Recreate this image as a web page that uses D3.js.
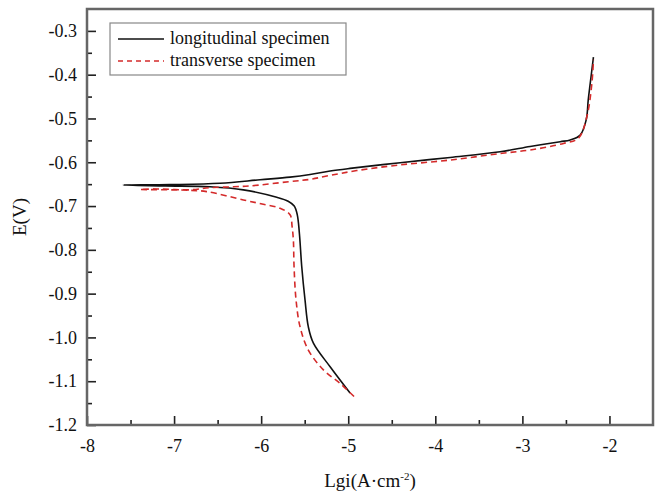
<!DOCTYPE html>
<html>
<head>
<meta charset="utf-8">
<script src="https://cdn.jsdelivr.net/npm/d3@7"></script>
<style>
  body { margin: 0; background: #fff; }
  svg text { font-family: "Liberation Serif", "Times New Roman", serif; }
</style>
</head>
<body>
<div id="chart"></div>
<script>
// lg i (A/cm2) and E (V), traced from cathodic end through Ecorr to anodic end
var longLgi = [-4.979, -5.208, -5.400, -5.458, -5.496, -5.534, -5.561, -5.585, -5.620, -5.690, -5.821, -6.204, -6.587, -7.100, -7.583,
  -7.047, -6.472, -6.013, -5.668, -5.438, -5.208, -4.979, -4.404, -3.830, -3.256, -2.911, -2.566, -2.451, -2.336, -2.267, -2.244, -2.221, -2.184];
var longE = [-1.127, -1.067, -1.013, -0.976, -0.915, -0.838, -0.762, -0.720, -0.700, -0.689, -0.680, -0.663, -0.656, -0.654, -0.652,
  -0.651, -0.648, -0.640, -0.634, -0.628, -0.620, -0.614, -0.601, -0.589, -0.576, -0.564, -0.553, -0.549, -0.538, -0.503, -0.458, -0.420, -0.360];

var transLgi = [-4.933, -5.094, -5.285, -5.458, -5.553, -5.599, -5.622, -5.630, -5.645, -5.668, -5.783, -5.975, -6.204, -6.625, -6.817, -7.391,
  -7.161, -6.817, -6.587, -6.319, -6.127, -5.668, -5.438, -5.208, -4.902, -4.404, -3.830, -3.256, -2.911, -2.528, -2.356, -2.260, -2.202, -2.184];
var transE = [-1.135, -1.105, -1.074, -1.029, -0.976, -0.915, -0.839, -0.778, -0.746, -0.720, -0.705, -0.696, -0.686, -0.667, -0.664, -0.662,
  -0.661, -0.663, -0.658, -0.656, -0.654, -0.644, -0.639, -0.630, -0.619, -0.606, -0.595, -0.580, -0.572, -0.557, -0.545, -0.496, -0.420, -0.366];

var seriesNames = ["longitudinal specimen", "transverse specimen"];
var xTicks = [-8, -7, -6, -5, -4, -3, -2];
var yTicks = [-1.2, -1.1, -1.0, -0.9, -0.8, -0.7, -0.6, -0.5, -0.4, -0.3];

var W = 662, H = 494;
var m = { left: 87, top: 9, right: 9, bottom: 69 };
var iw = W - m.left - m.right, ih = H - m.top - m.bottom;
var serif = "'Liberation Serif', 'Times New Roman', serif";

var svg = d3.select("#chart").append("svg")
  .attr("width", W)
  .attr("height", H);

var scX = d3.scaleLinear().domain([-8, -1.5]).range([0, iw]);
var scY = d3.scaleLinear().domain([-1.2, -0.25]).range([ih, 0]);

var g = svg.append("g").attr("transform", `translate(${m.left},${m.top})`);

// --- Curves ---

var lnMkr = d3.line()
  .curve(d3.curveCatmullRom.alpha(0.5))
  .x(d => scX(d[0]))
  .y(d => scY(d[1]));

var longData = longLgi.map((v, i) => [v, longE[i]]);
var transData = transLgi.map((v, i) => [v, transE[i]]);

g.append("path")
  .attr("fill", "none")
  .attr("stroke", "#111")
  .attr("stroke-width", 1.6)
  .attr("d", lnMkr(longData));

g.append("path")
  .attr("fill", "none")
  .attr("stroke", "#d42a2a")
  .attr("stroke-width", 1.6)
  .attr("stroke-dasharray", "6,4")
  .attr("d", lnMkr(transData));

// --- Axes ---

var styleAxis = function(sel) {
  sel.attr("font-family", serif);
  sel.select(".domain").remove();
  sel.selectAll(".tick line").attr("stroke", "#222").attr("stroke-width", 1.6);
  sel.selectAll(".tick text")
    .attr("font-size", 18)
    .attr("fill", "#111");
};

g.append("g")
  .attr("transform", `translate(0,${ih})`)
  .call(d3.axisBottom(scX).tickValues(xTicks).tickFormat(d => String(d)).tickSize(-9).tickPadding(14))
  .call(styleAxis);
g.append("g")
  .attr("transform", `translate(0,${ih})`)
  .call(d3.axisBottom(scX).tickValues(xTicks.slice(0, -1).map(d => d + 0.5)).tickFormat("").tickSize(-5))
  .call(styleAxis);

g.append("g")
  .call(d3.axisLeft(scY).tickValues(yTicks).tickFormat(d => d.toFixed(1)).tickSize(-9).tickPadding(10))
  .call(styleAxis);
g.append("g")
  .call(d3.axisLeft(scY).tickValues(yTicks.slice(0, -1).map(d => d + 0.05)).tickFormat("").tickSize(-5))
  .call(styleAxis);

// frame
g.append("rect")
  .attr("width", iw)
  .attr("height", ih)
  .attr("fill", "none")
  .attr("stroke", "#666")
  .attr("stroke-width", 2.5);

// axis titles
svg.append("text")
  .attr("x", 370)
  .attr("y", 487)
  .attr("text-anchor", "middle")
  .attr("font-size", 19)
  .attr("fill", "#111")
  .html("Lgi(A·cm<tspan dy='-7' font-size='11'>-2</tspan><tspan dy='7'>)</tspan>");

svg.append("text")
  .attr("transform", `translate(26,${m.top + ih / 2}) rotate(-90)`)
  .attr("text-anchor", "middle")
  .attr("font-size", 19)
  .attr("fill", "#111")
  .text("E(V)");

// --- Legend ---

var lg = svg.append("g").attr("transform", "translate(110,23)");
lg.append("rect")
  .attr("width", 236)
  .attr("height", 52)
  .attr("fill", "#fff")
  .attr("stroke", "#888")
  .attr("stroke-width", 1.2);

var legStyles = [
  { stroke: "#111", dash: null },
  { stroke: "#d42a2a", dash: "5,4" }
];
seriesNames.forEach(function(name, i) {
  var y = 16 + i * 22;
  lg.append("line")
    .attr("x1", 8).attr("x2", 54)
    .attr("y1", y).attr("y2", y)
    .attr("stroke", legStyles[i].stroke)
    .attr("stroke-width", 1.6)
    .attr("stroke-dasharray", legStyles[i].dash);
  lg.append("text")
    .attr("x", 60)
    .attr("y", y + 5)
    .attr("font-size", 18)
    .attr("fill", "#111")
    .text(name);
});
</script>
</body>
</html>
